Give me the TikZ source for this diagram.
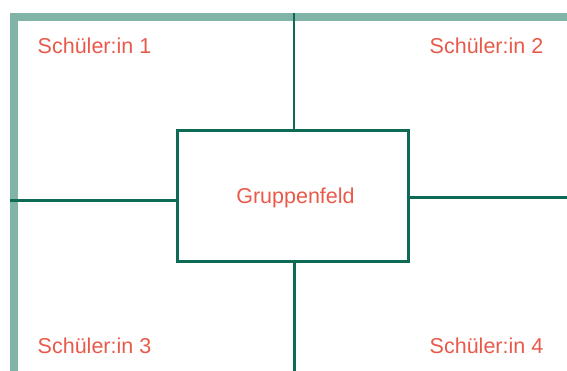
\documentclass[tikz,border=0pt]{standalone}
\usepackage{fontspec}
\setmainfont{Liberation Sans}
\definecolor{frame}{HTML}{80B4A6}
\definecolor{dline}{HTML}{0D6A55}
\definecolor{txt}{HTML}{EA5A4B}
\begin{document}
\begin{tikzpicture}[x=1pt,y=-1pt,
  lbl/.style={text=txt,font=\fontsize{21.5}{24}\selectfont,anchor=base,inner sep=0pt},
  conn/.style={draw=dline,line width=2.8pt},
  boxst/.style={draw=dline,line width=2.8pt,minimum width=231pt,minimum height=131pt,inner sep=0pt}]
\useasboundingbox (0,0) rectangle (567,371);
\fill[white] (0,0) rectangle (567,371);
% frame bands
\fill[frame] (10,13) rectangle (567,21);
\fill[frame] (10,13) rectangle (18,371);
% central box
\node[boxst] (gf) at (292.8,196.2) {};
\node[lbl] (gt) at (295.5,203.3) {Gruppenfeld};
% connector ends
\coordinate (ct) at (294,13);
\coordinate (cb) at (294.5,371);
\coordinate (cl) at (10,200.7);
\coordinate (cr) at (567,197.7);
\draw[conn] (ct) -- (ct |- gf.north);
\draw[conn] (cb |- gf.south) -- (cb);
\draw[conn] (cl) -- (gf.west |- cl);
\draw[conn] (gf.east |- cr) -- (cr);
% labels
\node[lbl] (s1) at (94.5,53.3) {Schüler:in 1};
\node[lbl] (s2) at (486.5,53.3) {Schüler:in 2};
\node[lbl] (s3) at (94.5,353.5) {Schüler:in 3};
\node[lbl] (s4) at (486.5,353.5) {Schüler:in 4};
\end{tikzpicture}
\end{document}
